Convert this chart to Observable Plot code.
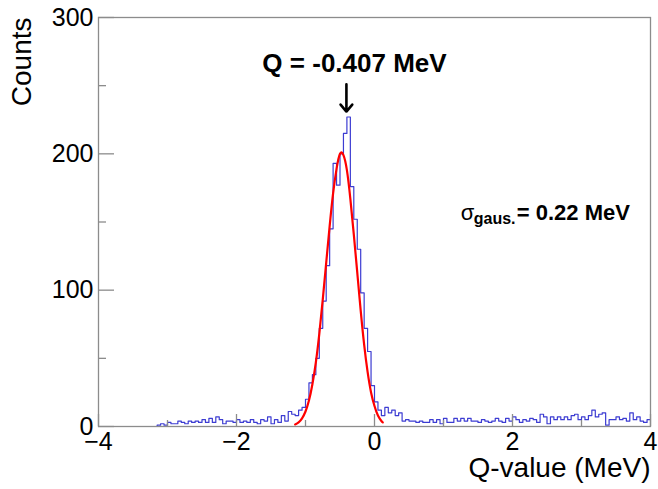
<!DOCTYPE html>
<html><head><meta charset="utf-8">
<script src="https://cdn.jsdelivr.net/npm/d3@7"></script>
<script src="https://cdn.jsdelivr.net/npm/@observablehq/plot@0.6"></script>
<style>body{margin:0;background:#fff} svg{display:block}</style>
</head><body><div id="chart"></div>
<script>
// Histogram: 160 bins of width 0.05 from -4 to 4
const binStart = -4, binWidth = 0.05;
const counts = [
  0,0,0,0,0,0,0,0,0,0,0,0,0,0,0,0,0,
  1,2,1,3,2,2,4,3,2,4,3,4,3,5,3,6,3,7,5,2,4,4,3,
  5,3,4,3,5,3,2,5,4,7,2,5,3,8,4,11,
  9,8,12,14,20,32,38,50,72,92,118,145,193,177,200,215,227,176,152,130,98,72,55,30,
  18,12,8,14,10,12,8,10,4,5,4,4,3,4,3,3,5,3,5,2,
  6,3,3,6,4,6,4,6,4,4,3,5,4,3,4,6,4,3,6,4,
  7,5,3,5,4,6,5,3,9,7,2,7,5,7,5,7,5,8,9,5,
  7,5,8,12,7,9,10,1,5,5,7,5,6,4,10,5,7,4,3,5
];
// Gaussian fit curve
const fitX = [-1.15,-1.10,-1.05,-1.00,-0.95,-0.90,-0.85,-0.80,-0.75,-0.70,-0.65,-0.60,-0.55,-0.50,-0.45,-0.40,-0.35,-0.30,-0.25,-0.20,-0.15,-0.10,-0.05,0.00,0.05,0.10,0.12];
const fitY = [1.5,3,6,11,19,31,47,68,93,120,147,171,189,200,199,188,167,141,113,85,60,40,25,15,8,4,3];
const xTicksMajor = [-4,-2,0,2,4];
const xTicksMinor = [-3,-1,1,3];
const yTicksMajor = [0,100,200,300];
const yTicksMinor = [50,150,250];
const qValue = -0.407;
const qLabel = "Q = -0.407 MeV";
const sigmaLabel = "= 0.22 MeV";

const hist = counts.map((c, i) => ({x: binStart + i * binWidth, y: c}));
hist.push({x: binStart + counts.length * binWidth, y: counts[counts.length - 1]});
const fit = fitX.map((x, i) => ({x, y: fitY[i]}));

const W = 658, H = 489, mL = 98, mR = 8, mT = 17, mB = 63;
const pw = W - mL - mR, ph = H - mT - mB;
const axisColor = "#8c8c8c";

const chart = Plot.plot({
  width: W, height: H,
  marginLeft: mL, marginRight: mR, marginTop: mT, marginBottom: mB,
  style: {fontFamily: "'Liberation Sans', Arial, Helvetica, sans-serif", background: "#fff", color: "#000", overflow: "visible"},
  x: {domain: [-4, 4]},
  y: {domain: [0, 300]},
  marks: [
    Plot.line(hist, {x: "x", y: "y", curve: "step-after", stroke: "#3c3cd2", strokeWidth: 1.2}),
    Plot.line(fit, {x: "x", y: "y", curve: "natural", stroke: "#ff0000", strokeWidth: 2.2}),
    Plot.frame({stroke: axisColor, strokeWidth: 1.3}),
    Plot.tickY(yTicksMajor, {y: d => d, insetRight: pw - 16, stroke: axisColor, strokeWidth: 1.3}),
    Plot.tickY(yTicksMinor, {y: d => d, insetRight: pw - 8, stroke: axisColor, strokeWidth: 1.3}),
    Plot.tickX(xTicksMajor, {x: d => d, insetTop: ph - 12, stroke: axisColor, strokeWidth: 1.3}),
    Plot.tickX(xTicksMinor, {x: d => d, insetTop: ph - 6, stroke: axisColor, strokeWidth: 1.3}),
    Plot.axisX(xTicksMajor, {tickSize: 0, tickPadding: 6, fontSize: 25, label: null, fill: "#000"}),
    Plot.axisY(yTicksMajor, {tickSize: 0, tickPadding: 5, fontSize: 25, label: null, fill: "#000"}),
    Plot.text(["Counts"], {text: d => d, frameAnchor: "top-left", rotate: -90, textAnchor: "end", lineAnchor: "middle", dx: -76, fontSize: 28, fill: "#000"}),
    Plot.text(["Q-value (MeV)"], {text: d => d, frameAnchor: "bottom-right", textAnchor: "end", lineAnchor: "middle", dy: 42, fontSize: 28, fill: "#000"}),
    Plot.arrow([{x: qValue, y1: 251, y2: 231}], {x1: "x", x2: "x", y1: "y1", y2: "y2", stroke: "#000", strokeWidth: 2.6, headLength: 11, headAngle: 80}),
    Plot.text([qLabel], {text: d => d, x: -0.29, y: 266, fontSize: 26, fontWeight: "bold", textAnchor: "middle", lineAnchor: "middle", fill: "#000"}),
    Plot.text(["σ"], {text: d => d, x: 1.25, y: 157, fontSize: 22, textAnchor: "start", lineAnchor: "middle", fill: "#000"}),
    Plot.text(["gaus."], {text: d => d, x: 1.25, y: 157, dx: 13, dy: 6, fontSize: 16, fontWeight: "bold", textAnchor: "start", lineAnchor: "middle", fill: "#000"}),
    Plot.text([sigmaLabel], {text: d => d, x: 1.25, y: 157, dx: 56, fontSize: 22, fontWeight: "bold", textAnchor: "start", lineAnchor: "middle", fill: "#000"})
  ]
});
document.getElementById("chart").append(chart);
</script>
</body></html>
